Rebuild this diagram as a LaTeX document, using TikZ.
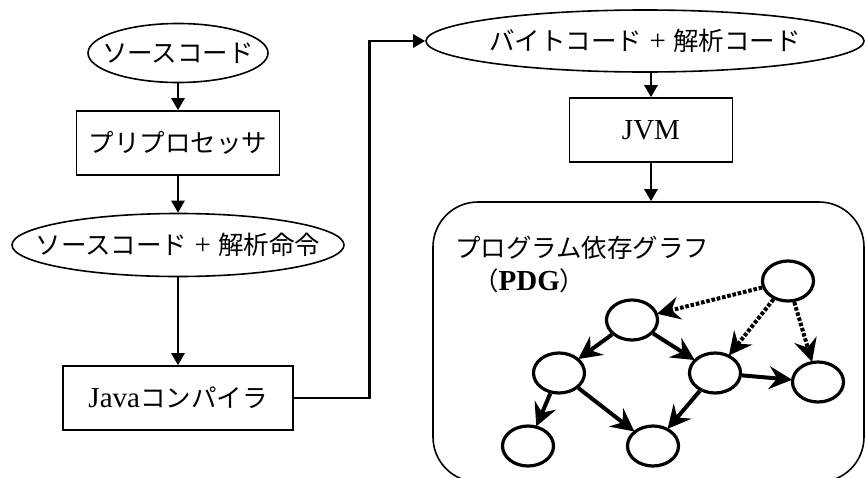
\documentclass[tikz,border=0pt]{standalone}
\usepackage{fontspec}
\setmainfont{Liberation Serif}
\newfontfamily\cjk{Noto Sans CJK JP}
\newcommand\jp[1]{{\fontsize{25.5}{28}\cjk #1}}
\usetikzlibrary{shapes.geometric,arrows.meta,calc}
\tikzset{
  x=1pt,y=-1pt,
  base/.style={font=\fontsize{29}{32}\selectfont, inner sep=0pt},
  oval/.style={ellipse, draw, line width=1.6pt, inner sep=0pt},
  box/.style={base, rectangle, draw, line width=1.6pt},
  flow/.style={line width=2.7pt, -{Triangle[length=12pt,width=13pt]}},
  gnode/.style={ellipse, draw, line width=3.2pt, minimum width=51pt, minimum height=40pt, inner sep=0pt},
  gedge/.style={line width=4pt, -{Stealth[length=23pt,width=23pt,inset=8pt]}, shorten >=-1pt},
  dep/.style={gedge, dash pattern=on 3.6pt off 1.8pt},
}
\begin{document}
\begin{tikzpicture}
\useasboundingbox (0,0) rectangle (865,477);
\clip (0,0) rectangle (865,477);
% left column
\node[oval, minimum width=180, minimum height=59, label={[base]center:\jp{ソースコード}}] (e1) at (178,53) {};
\node[box, minimum width=203, minimum height=64] (b1) at (178,143) {\jp{プリプロセッサ}};
\node[oval, minimum width=332, minimum height=63, label={[base]center:\jp{ソースコード} + \jp{解析命令}}] (e2) at (178,245) {};
\node[box, minimum width=230, minimum height=64] (b2) at (178,398) {Java\jp{コンパイラ}};
% right column
\node[oval, minimum width=438, minimum height=62, label={[base]center:\jp{バイトコード} + \jp{解析コード}}] (e3) at (645,41) {};
\node[box, minimum width=163, minimum height=64] (b3) at (651,130) {JVM};
\node[draw, line width=1.6pt, rounded corners=45pt, minimum width=431, minimum height=280, inner sep=0pt] (pdg) at (648.5,342) {};
\node[base, anchor=west] (t1) at (455,248) {\jp{プログラム依存グラフ}};
\node[base, anchor=west] (t2) at (473,281) {\jp{（}\textbf{PDG}\jp{）}};
% flow arrows
\draw[flow] (e1) -- (b1);
\draw[flow] (b1) -- (e2);
\draw[flow] (e2) -- (b2);
\draw[flow] (b2.east) -- ++(76,0) |- (e3.west);
\draw[flow] (e3.south -| b3.north) -- (b3.north);
\draw[flow] (b3.south) -- (b3.south |- pdg.north);
% graph
\node[gnode] (n0) at (788,281) {};
\node[gnode] (n1) at (632,320) {};
\node[gnode] (n2) at (559,373) {};
\node[gnode] (n3) at (715,373) {};
\node[gnode] (n4) at (818,382) {};
\node[gnode] (n5) at (528,446) {};
\node[gnode] (n6) at (653,446) {};
\draw[dep] (n0) -- (n1);
\draw[dep] (n0) -- (n3);
\draw[dep] (n0) -- (n4);
\draw[gedge] (n1) -- (n2);
\draw[gedge] (n1) -- (n3);
\draw[gedge] (n2) -- (n5);
\draw[gedge] (n2) -- (n6);
\draw[gedge] (n3) -- (n6);
\draw[gedge] (n3) -- (n4);
\end{tikzpicture}
\end{document}
